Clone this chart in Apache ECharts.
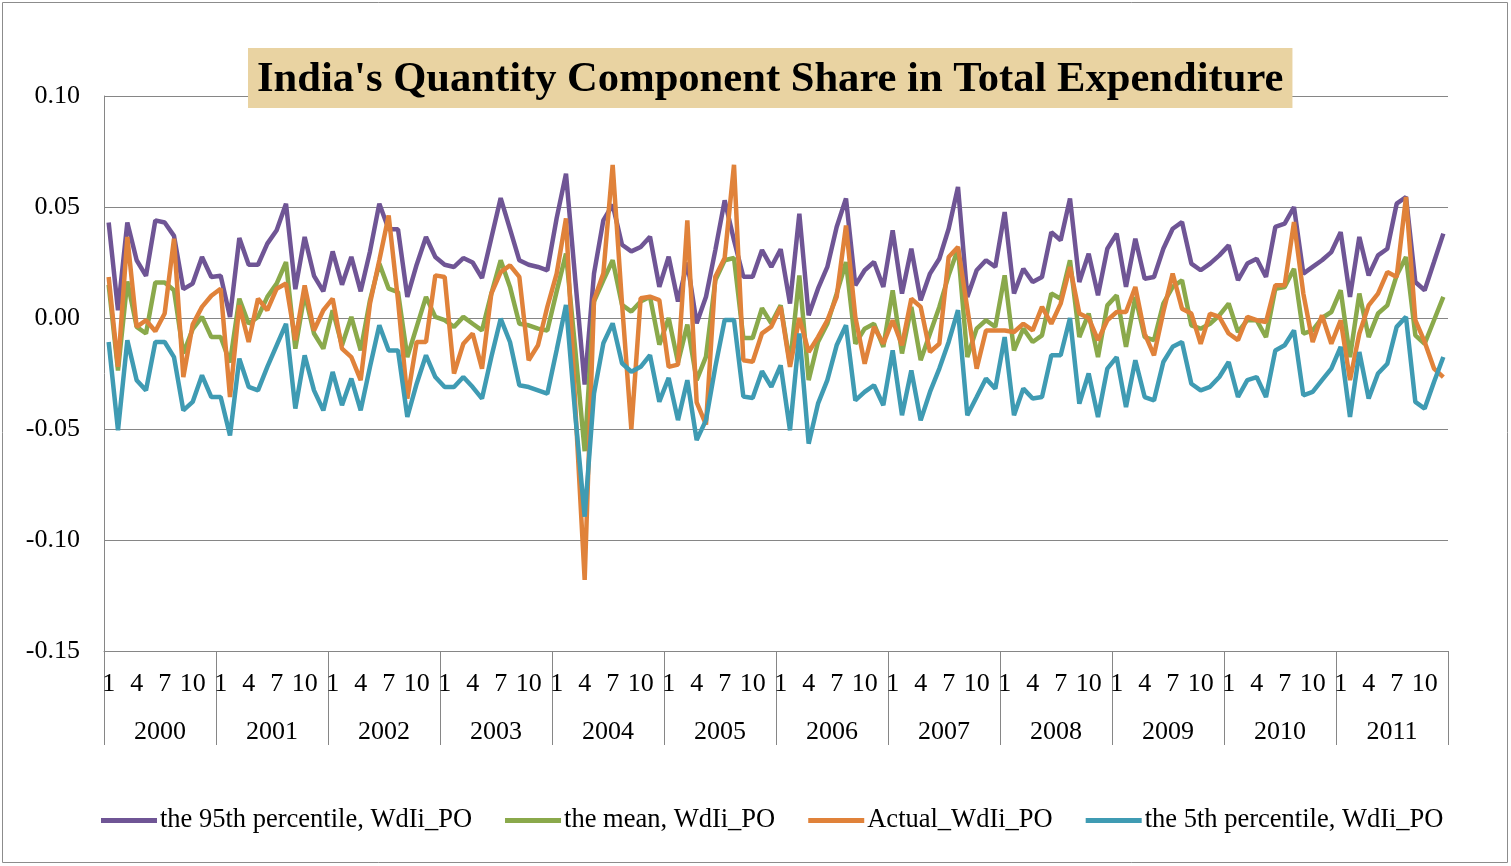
<!DOCTYPE html>
<html>
<head>
<meta charset="utf-8">
<script src="https://cdn.jsdelivr.net/npm/echarts@6/dist/echarts.min.js"></script>
<style>
  html, body { margin: 0; padding: 0; background: #fff; }
  #main { width: 1511px; height: 866px; }
</style>
</head>
<body>
<div id="main"></div>
<script>
var years = ['2000', '2001', '2002', '2003', '2004', '2005', '2006', '2007', '2008', '2009', '2010', '2011'];
var monthLabels = [];
for (var y = 0; y < years.length; y++) {
    for (var m = 1; m <= 12; m++) monthLabels.push(String(m));
}

// the 95th percentile
var p95 = [
    0.043, 0.0035, 0.043, 0.026, 0.019, 0.044, 0.043, 0.037, 0.013, 0.0155, 0.0275, 0.0185,
    0.019, 0.0005, 0.036, 0.024, 0.024, 0.0335, 0.0395, 0.0515, 0.013, 0.0365, 0.019, 0.012,
    0.030, 0.015, 0.0275, 0.012, 0.030, 0.0515, 0.040, 0.040, 0.0095, 0.024, 0.0365, 0.0275,
    0.024, 0.023, 0.027, 0.025, 0.018, 0.036, 0.054, 0.040, 0.026, 0.024, 0.023, 0.0215,
    0.045, 0.065, 0.017, -0.030, 0.020, 0.044, 0.051, 0.033, 0.030, 0.032, 0.0366, 0.014,
    0.0276, 0.0074, 0.025, -0.0024, 0.0096, 0.0306, 0.053, 0.035, 0.0186, 0.0186, 0.0306, 0.023,
    0.031, 0.0065, 0.047, 0.0012, 0.0132, 0.023, 0.041, 0.0538, 0.0147, 0.0215, 0.0252, 0.014,
    0.0395, 0.011, 0.0312, 0.008, 0.020, 0.0267, 0.0402, 0.059, 0.0095, 0.0215, 0.026, 0.023,
    0.0477, 0.011, 0.0222, 0.0162, 0.0185, 0.0387, 0.035, 0.0538, 0.0162, 0.029, 0.0102, 0.0312,
    0.038, 0.014, 0.0357, 0.0177, 0.0185, 0.0312, 0.0402, 0.0432, 0.0245, 0.0215, 0.0245, 0.0282,
    0.0327, 0.017, 0.0245, 0.0267, 0.0185, 0.041, 0.0425, 0.050, 0.020, 0.023, 0.026, 0.0297,
    0.0387, 0.0095, 0.0365, 0.0192, 0.0282, 0.0312, 0.0515, 0.0545, 0.0162, 0.0125, 0.0252, 0.038
];

// the mean
var meanVals = [
    0.015, -0.0236, 0.0165, -0.004, -0.007, 0.016, 0.016, 0.0125, -0.016, -0.005, 0.0005, -0.0086,
    -0.0086, -0.02, 0.0087, -0.0026, 0.0005, 0.0095, 0.0155, 0.0252, -0.0138, 0.011, -0.007, -0.0138,
    0.0035, -0.0123, 0.0005, -0.0146, 0.008, 0.0245, 0.0132, 0.0117, -0.0176, -0.004, 0.0095, 0.0005,
    -0.001, -0.004, 0.0005, -0.0026, -0.0056, 0.011, 0.026, 0.014, -0.0026, -0.0033, -0.0048, -0.0056,
    0.012, 0.029, -0.0144, -0.060, 0.0074, 0.017, 0.026, 0.0059, 0.0029, 0.0074, 0.0096, -0.012,
    0.0, -0.020, -0.003, -0.028, -0.0174, 0.017, 0.026, 0.027, -0.009, -0.009, 0.0044, -0.0024,
    0.0057, -0.0206, 0.0192, -0.028, -0.0108, -0.0026, 0.011, 0.0252, -0.0116, -0.0048, -0.0026, -0.013,
    0.0125, -0.016, 0.005, -0.019, -0.007, 0.005, 0.0192, 0.0312, -0.0176, -0.0048, -0.001, -0.004,
    0.0192, -0.0146, -0.0048, -0.0108, -0.0078, 0.011, 0.0087, 0.026, -0.0086, 0.002, -0.0176, 0.0057,
    0.0102, -0.013, 0.0095, -0.0086, -0.010, 0.0065, 0.014, 0.017, -0.0033, -0.0048, -0.0026, 0.0012,
    0.0065, -0.0063, -0.001, -0.001, -0.0086, 0.0132, 0.014, 0.0222, -0.007, -0.0056, 0.0, 0.0027,
    0.0125, -0.0176, 0.011, -0.0086, 0.002, 0.0057, 0.0192, 0.0275, -0.0078, -0.0116, -0.001, 0.0095
];

// Actual
var actual = [
    0.0185, -0.022, 0.0365, -0.004, -0.001, -0.006, 0.002, 0.0357, -0.0266, -0.003, 0.005, 0.010,
    0.0132, -0.0356, 0.0057, -0.0108, 0.0087, 0.0035, 0.0132, 0.0155, -0.010, 0.0147, -0.0056, 0.0035,
    0.0087, -0.0138, -0.0176, -0.028, 0.0065, 0.026, 0.0462, 0.008, -0.0363, -0.0108, -0.0108, 0.0192,
    0.0185, -0.025, -0.0116, -0.007, -0.0228, 0.011, 0.0207, 0.0237, 0.0185, -0.019, -0.0123, 0.005,
    0.020, 0.0449, -0.040, -0.118, 0.0081, 0.020, 0.069, 0.0066, -0.050, 0.0089, 0.0096, 0.0081,
    -0.022, -0.021, 0.044, -0.038, -0.048, 0.0186, 0.027, 0.069, -0.019, -0.0197, -0.0069, -0.0039,
    0.005, -0.022, 0.0, -0.0153, -0.0086, -0.001, 0.0095, 0.0417, 0.0005, -0.0206, -0.004, -0.0116,
    -0.001, -0.0123, 0.0087, 0.005, -0.0153, -0.0116, 0.0275, 0.032, 0.0042, -0.0228, -0.0056, -0.0056,
    -0.0056, -0.0063, -0.0026, -0.0056, 0.005, -0.0026, 0.0065, 0.023, 0.002, 0.0, -0.010, -0.001,
    0.0027, 0.0027, 0.014, -0.007, -0.0168, 0.0027, 0.020, 0.0042, 0.002, -0.0116, 0.002, 0.0005,
    -0.007, -0.010, 0.0005, -0.001, -0.0018, 0.0147, 0.0147, 0.0432, 0.011, -0.0108, 0.0012, -0.0116,
    -0.001, -0.028, -0.007, 0.0057, 0.011, 0.0207, 0.0185, 0.0545, -0.001, -0.0108, -0.0228, -0.0266
];

// the 5th percentile
var p5 = [
    -0.0108, -0.0506, -0.010, -0.028, -0.0326, -0.0108, -0.0108, -0.0176, -0.0416, -0.0378, -0.0258, -0.0356,
    -0.0356, -0.0529, -0.0183, -0.031, -0.0326, -0.022, -0.0123, -0.0026, -0.0408, -0.0168, -0.0326, -0.0416,
    -0.0243, -0.0393, -0.0273, -0.0416, -0.022, -0.0033, -0.0146, -0.0146, -0.0446, -0.0296, -0.0168, -0.0266,
    -0.0311, -0.0311, -0.0266, -0.0311, -0.0363, -0.0176, -0.0003, -0.0108, -0.0303, -0.0311, -0.0326, -0.0341,
    -0.0144, 0.0059, -0.044, -0.0895, -0.034, -0.0114, -0.0024, -0.0204, -0.0242, -0.022, -0.0167, -0.0377,
    -0.027, -0.046, -0.028, -0.055, -0.046, -0.022, -0.0009, -0.0009, -0.0354, -0.036, -0.024, -0.031,
    -0.0213, -0.0506, -0.007, -0.0566, -0.0386, -0.028, -0.0123, -0.0033, -0.0371, -0.0333, -0.0303, -0.0393,
    -0.0146, -0.0438, -0.0236, -0.0461, -0.0333, -0.0228, -0.0108, 0.0035, -0.0438, -0.0356, -0.0273, -0.0318,
    -0.0086, -0.0438, -0.0318, -0.0363, -0.0356, -0.0168, -0.0168, 0.0, -0.0386, -0.025, -0.0446, -0.0228,
    -0.0176, -0.0401, -0.019, -0.0356, -0.0371, -0.0198, -0.013, -0.0108, -0.0296, -0.0326, -0.031, -0.0266,
    -0.0198, -0.0356, -0.028, -0.0266, -0.0356, -0.0146, -0.0123, -0.0056, -0.0348, -0.0333, -0.028, -0.0228,
    -0.013, -0.0446, -0.0153, -0.0363, -0.025, -0.0206, -0.004, 0.0005, -0.0378, -0.0408, -0.0288, -0.0176
];

var seriesNames = ['the 95th percentile, WdIi_PO', 'the mean, WdIi_PO', 'Actual_WdIi_PO', 'the 5th percentile, WdIi_PO'];
var seriesColors = ['#6f5595', '#8aa94b', '#e0823a', '#3f9bb3'];
var seriesData = [p95, meanVals, actual, p5];

var FONT = "'Liberation Serif', 'Times New Roman', serif";
var gridRect = { left: 104, right: 63, top: 96, bottom: 215 };

var myChart = echarts.init(document.getElementById('main'));

var option = {
    animation: false,
    backgroundColor: '#fff',
    title: {
        text: "India's Quantity Component Share in Total Expenditure",
        left: 248,
        top: 48,
        padding: [10, 9, 7, 9],
        backgroundColor: '#e9d3a2',
        textStyle: { fontFamily: FONT, fontSize: 42.6, fontWeight: 'bold', color: '#000' }
    },
    legend: {
        data: seriesNames,
        left: 96,
        top: 802,
        icon: 'rect',
        itemWidth: 56,
        itemHeight: 5,
        itemGap: 33,
        textStyle: { fontFamily: FONT, fontSize: 26.5, color: '#000', padding: [0, 0, 0, -2] }
    },
    graphic: [{
        type: 'rect',
        shape: { x: 2.5, y: 2.5, width: 1505, height: 860 },
        style: { fill: 'none', stroke: '#8c8c8c', lineWidth: 1 },
        silent: true
    }],
    grid: [
        Object.assign({}, gridRect),
        Object.assign({}, gridRect)
    ],
    xAxis: [{
        type: 'category',
        gridIndex: 0,
        data: monthLabels,
        boundaryGap: true,
        axisLine: { show: true, onZero: false, lineStyle: { color: '#868686', width: 1 } },
        axisTick: { show: false },
        axisLabel: {
            interval: function (idx) { return idx % 3 === 0; },
            margin: 20,
            fontFamily: FONT,
            fontSize: 26,
            color: '#000'
        },
        splitLine: { show: false }
    }, {
        type: 'category',
        gridIndex: 1,
        data: years,
        boundaryGap: true,
        axisLine: { show: false, onZero: false },
        axisTick: { show: true, length: 94, lineStyle: { color: '#868686', width: 1 } },
        axisLabel: { margin: 68, fontFamily: FONT, fontSize: 26, color: '#000' },
        splitLine: { show: false }
    }],
    yAxis: [{
        type: 'value',
        gridIndex: 0,
        min: -0.15,
        max: 0.10,
        interval: 0.05,
        axisLine: { show: true, lineStyle: { color: '#868686', width: 1 } },
        axisTick: { show: false },
        axisLabel: {
            margin: 24,
            fontFamily: FONT,
            fontSize: 26,
            color: '#000',
            formatter: function (v) { return v.toFixed(2); }
        },
        splitLine: { show: true, lineStyle: { color: '#868686', width: 1 } }
    }, {
        type: 'value',
        gridIndex: 1,
        min: -0.15,
        max: 0.10,
        show: false
    }],
    series: seriesNames.map(function (name, i) {
        return {
            name: name,
            type: 'line',
            xAxisIndex: 0,
            yAxisIndex: 0,
            data: seriesData[i],
            showSymbol: false,
            symbol: 'none',
            color: seriesColors[i],
            lineStyle: { width: 4.5, color: seriesColors[i] }
        };
    })
};

myChart.setOption(option);
</script>
</body>
</html>
